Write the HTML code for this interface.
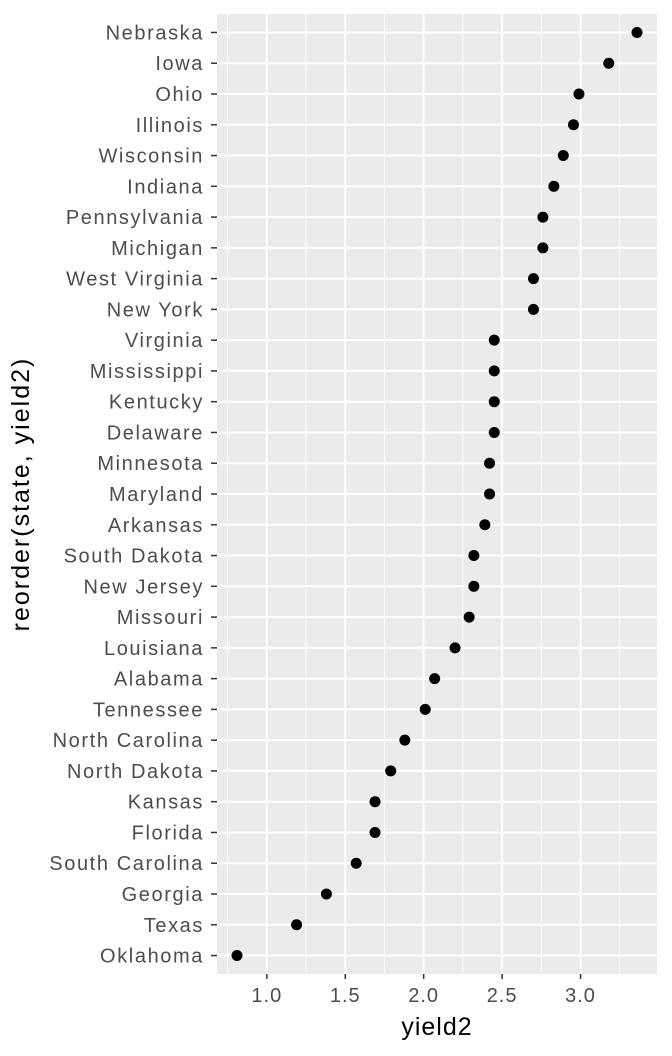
<!DOCTYPE html>
<html><head><meta charset="utf-8"><style>body{margin:0;background:#fff}svg{display:block}</style></head>
<body>
<svg id="chart" width="672" height="1056" xmlns="http://www.w3.org/2000/svg" font-family="Liberation Sans, sans-serif"></svg>
<script>
const states=["Nebraska","Iowa","Ohio","Illinois","Wisconsin","Indiana","Pennsylvania","Michigan","West Virginia","New York","Virginia","Mississippi","Kentucky","Delaware","Minnesota","Maryland","Arkansas","South Dakota","New Jersey","Missouri","Louisiana","Alabama","Tennessee","North Carolina","North Dakota","Kansas","Florida","South Carolina","Georgia","Texas","Oklahoma"];
const yields=[3.36,3.18,2.99,2.955,2.89,2.83,2.76,2.76,2.70,2.70,2.45,2.45,2.45,2.45,2.42,2.42,2.39,2.32,2.32,2.29,2.20,2.07,2.01,1.88,1.79,1.69,1.69,1.57,1.38,1.19,0.81];
const xTicks=[1.0,1.5,2.0,2.5,3.0];
const xTickLabels=["1.0","1.5","2.0","2.5","3.0"];
const svg=document.getElementById('chart');const NS="http://www.w3.org/2000/svg";
function mk(t,a,p){const e=document.createElementNS(NS,t);for(const k in a)e.setAttribute(k,a[k]);(p||svg).appendChild(e);return e;}
const L=217,R=657,T=14,B=974;
const mn=Math.min(...yields),mxv=Math.max(...yields),pad=(mxv-mn)*0.05;
const x0=mn-pad,x1=mxv+pad;
const xs=v=>L+(v-x0)/(x1-x0)*(R-L);
const n=states.length,step=(B-T)/(n-1+1.2);
const ys=i=>T+step*(0.6+i);
const bg=mk('rect',{x:L,y:T,width:R-L,height:B-T,fill:'#ebebeb'});


for(let i=0;i<xTicks.length+1;i++){const v=xTicks[0]-0.25+i*0.5;if(v<x0||v>x1)continue;
 const g=mk('line',{x1:xs(v),x2:xs(v),y1:T,y2:B,stroke:'#fff','stroke-width':1});
 
 }
xTicks.forEach((v,i)=>{
 const g=mk('line',{x1:xs(v),x2:xs(v),y1:T,y2:B,stroke:'#fff','stroke-width':2});
 
 
 const tk=mk('line',{x1:xs(v),x2:xs(v),y1:B,y2:B+5,stroke:'#333','stroke-width':1.5});
 
 
 const t=mk('text',{x:xs(v),y:B+28,'text-anchor':'middle','font-size':20,'letter-spacing':'1',fill:'#4d4d4d'});t.textContent=xTickLabels[i];
 
 
});
states.forEach((s,i)=>{
 const y=ys(i);
 const g=mk('line',{x1:L,x2:R,y1:y,y2:y,stroke:'#fff','stroke-width':2});
 
 
 const tk=mk('line',{x1:L-6,x2:L,y1:y,y2:y,stroke:'#333','stroke-width':1.5});
 
 
 const t=mk('text',{x:L-13,y:y+7,'text-anchor':'end','font-size':20,'letter-spacing':'1.6',fill:'#4d4d4d'});t.textContent=s;
 
 
});
states.forEach((s,i)=>{
 const c=mk('circle',{cx:xs(yields[i]),cy:ys(i),r:5.5,fill:'#000'});
 
 
});
const xt=mk('text',{x:(L+R)/2,y:1035,'text-anchor':'middle','font-size':25,'letter-spacing':'1',fill:'#000'});xt.textContent='yield2';


const yt=mk('text',{x:0,y:0,'text-anchor':'middle','font-size':25,'letter-spacing':'2',fill:'#000',transform:`translate(29,${(T+B)/2}) rotate(-90)`});yt.textContent='reorder(state, yield2)';


</script>
</body></html>
